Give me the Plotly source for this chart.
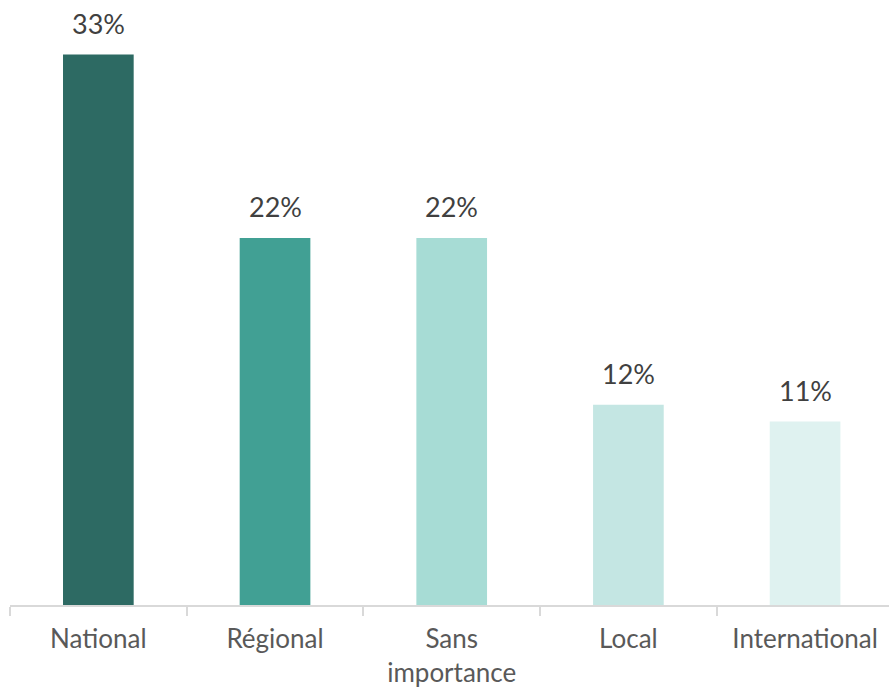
import plotly.graph_objects as go

categories = ["National", "Régional", "Sans<br>importance", "Local", "International"]
values = [33, 22, 22, 12, 11]
value_labels = ["33%", "22%", "22%", "12%", "11%"]
bar_colors = ["#2D6A63", "#41A094", "#A7DCD5", "#C4E6E3", "#DFF2F0"]

FONT = "Lato, 'Open Sans', sans-serif"

fig = go.Figure(
    go.Bar(
        x=categories,
        y=values,
        marker=dict(color=bar_colors, line=dict(width=0)),
        width=0.4,
        hoverinfo="skip",
    )
)

for cat, val, lab in zip(categories, values, value_labels):
    fig.add_annotation(
        x=cat, y=val, text=lab, showarrow=False,
        yanchor="bottom", yshift=13,
        font=dict(family=FONT, size=27, color="#404040"),
    )

fig.update_layout(
    width=889, height=688,
    margin=dict(l=10, r=0, t=0, b=83),
    paper_bgcolor="white", plot_bgcolor="white",
    showlegend=False,
    bargap=0.6,
    xaxis=dict(
        type="category",
        range=[-0.5, 4.475],
        automargin=False,
        showline=True, linecolor="#D9D9D9", linewidth=2,
        ticks="outside", tickson="boundaries", ticklen=9,
        tickcolor="#D9D9D9", tickwidth=2,
        ticklabelstandoff=10,
        tickfont=dict(family=FONT, size=26, color="#595959"),
        showgrid=False, zeroline=False,
    ),
    yaxis=dict(
        range=[0, 36.27], visible=False, showgrid=False, zeroline=False,
    ),
)

fig.write_html("out.html")
